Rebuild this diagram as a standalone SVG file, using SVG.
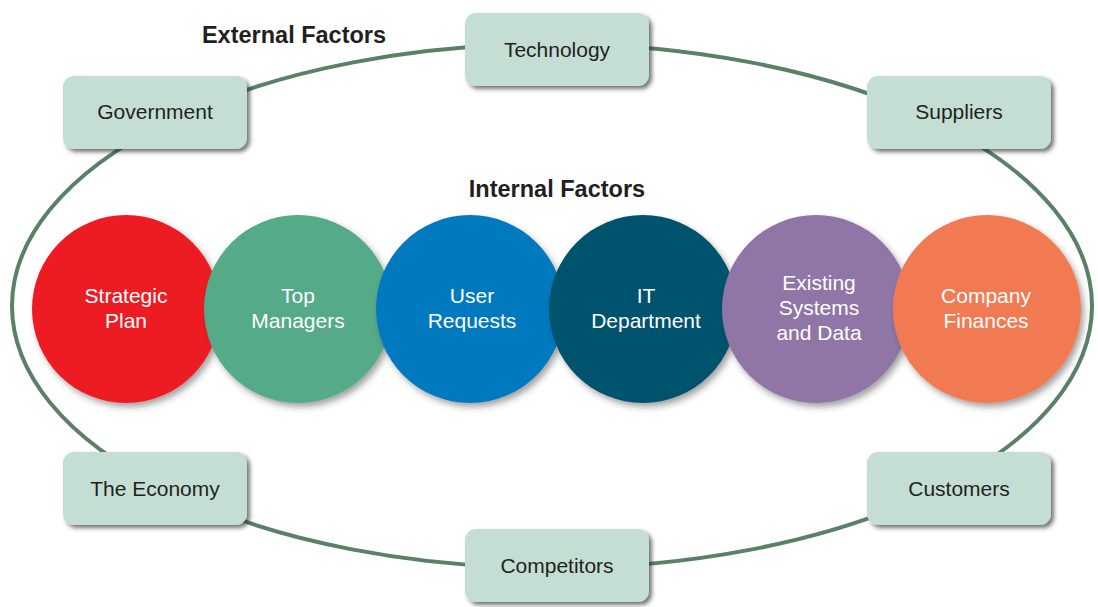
<svg xmlns="http://www.w3.org/2000/svg" width="1098" height="607" viewBox="0 0 1098 607">
<defs>
<filter id="bs" x="-20%" y="-20%" width="140%" height="150%">
<feDropShadow dx="3" dy="3" stdDeviation="2" flood-color="#2a2a2a" flood-opacity="0.65"/>
</filter>
<filter id="cs" x="-20%" y="-20%" width="140%" height="140%">
<feDropShadow dx="3" dy="4" stdDeviation="3" flood-color="#333" flood-opacity="0.45"/>
</filter>
<style>
.box{fill:#c4ded4;filter:url(#bs);}
.bt{font-family:"Liberation Sans",Arial,sans-serif;font-size:21px;fill:#231f20;text-anchor:middle;}
.ct{font-family:"Liberation Sans",Arial,sans-serif;font-size:21px;fill:#ffffff;text-anchor:middle;}
.hd{font-family:"Liberation Sans",Arial,sans-serif;font-size:23.5px;font-weight:bold;fill:#231f20;text-anchor:middle;}
.ring{fill:none;stroke:#5b8068;stroke-width:4;}
.c{filter:url(#cs);}
</style>
</defs>
<rect width="1098" height="607" fill="#ffffff"/>
<g id="connectors">
<ellipse class="ring" cx="552" cy="306" rx="540" ry="262"/>
</g>
<text class="hd" x="294" y="43">External Factors</text>
<text class="hd" x="557" y="197">Internal Factors</text>
<g id="government"><rect class="box" x="63" y="76" width="184" height="73" rx="11"/><text class="bt" x="155" y="119">Government</text></g>
<g id="technology"><rect class="box" x="465" y="13" width="184" height="73" rx="11"/><text class="bt" x="557" y="57">Technology</text></g>
<g id="suppliers"><rect class="box" x="867" y="76" width="184" height="73" rx="11"/><text class="bt" x="959" y="119">Suppliers</text></g>
<g id="economy"><rect class="box" x="63" y="452" width="184" height="73" rx="11"/><text class="bt" x="155" y="496">The Economy</text></g>
<g id="customers"><rect class="box" x="867" y="452" width="184" height="73" rx="11"/><text class="bt" x="959" y="496">Customers</text></g>
<g id="competitors"><rect class="box" x="465" y="529" width="184" height="73" rx="11"/><text class="bt" x="557" y="573">Competitors</text></g>
<g id="strategic-plan"><circle class="c" cx="126" cy="309" r="94" fill="#ed1c24"/><text class="ct" x="126" y="303">Strategic</text><text class="ct" x="126" y="328">Plan</text></g>
<g id="top-managers"><circle class="c" cx="298" cy="309" r="94" fill="#55aa88"/><text class="ct" x="298" y="303">Top</text><text class="ct" x="298" y="328">Managers</text></g>
<g id="user-requests"><circle class="c" cx="470" cy="309" r="94" fill="#0179bf"/><text class="ct" x="472" y="303">User</text><text class="ct" x="472" y="328">Requests</text></g>
<g id="it-department"><circle class="c" cx="643" cy="309" r="94" fill="#00536d"/><text class="ct" x="646" y="303">IT</text><text class="ct" x="646" y="328">Department</text></g>
<g id="existing-systems"><circle class="c" cx="816" cy="309" r="94" fill="#8f76a6"/><text class="ct" x="819" y="290">Existing</text><text class="ct" x="819" y="315">Systems</text><text class="ct" x="819" y="340">and Data</text></g>
<g id="company-finances"><circle class="c" cx="987" cy="309" r="94" fill="#f27a53"/><text class="ct" x="986" y="303">Company</text><text class="ct" x="986" y="328">Finances</text></g>
</svg>
